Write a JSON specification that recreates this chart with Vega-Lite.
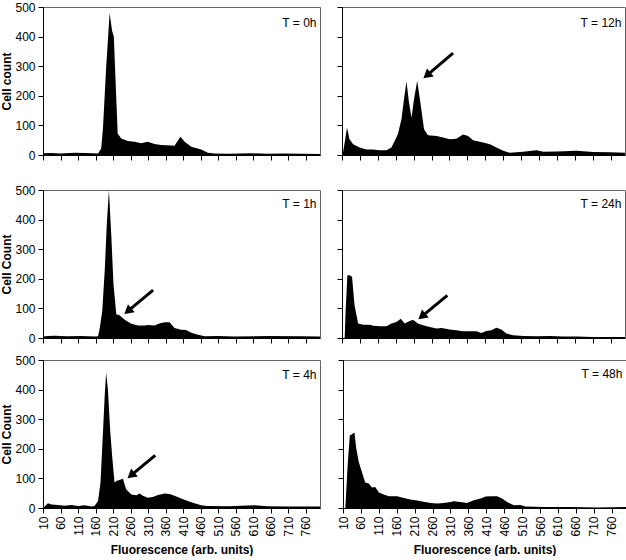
{
  "$schema": "https://vega.github.io/schema/vega-lite/v6.json",
  "padding": {"left": 0, "top": 0, "right": 0, "bottom": 0},
  "background": "white",
  "config": {
    "view": {"stroke": "#666", "strokeWidth": 1},
    "font": "Liberation Sans",
    "axis": {"domainColor": "black", "tickColor": "black", "labelColor": "black", "titleColor": "black", "labelFont": "Liberation Sans", "titleFont": "Liberation Sans", "labelFontSize": 12, "titleFontSize": 12, "grid": false, "tickSize": 5, "labelPadding": 3, "titlePadding": 1, "labelFontWeight": "normal", "titleFontWeight": "bold", "labelOverlap": false, "labelFlush": false, "labelBound": false},
    "text": {"font": "Liberation Sans", "fontSize": 12, "color": "black"}
  },
  "datasets": {
    "hist": [
      {"p": "0h", "x": 10, "y": 6}, {"p": "0h", "x": 34, "y": 7}, {"p": "0h", "x": 60, "y": 5}, {"p": "0h", "x": 100, "y": 8}, {"p": "0h", "x": 130, "y": 7}, {"p": "0h", "x": 167, "y": 5}, {"p": "0h", "x": 176, "y": 22}, {"p": "0h", "x": 181, "y": 90}, {"p": "0h", "x": 190, "y": 293}, {"p": "0h", "x": 200, "y": 480}, {"p": "0h", "x": 207, "y": 420}, {"p": "0h", "x": 212, "y": 400}, {"p": "0h", "x": 218, "y": 220}, {"p": "0h", "x": 223, "y": 73}, {"p": "0h", "x": 233, "y": 56}, {"p": "0h", "x": 252, "y": 47}, {"p": "0h", "x": 271, "y": 45}, {"p": "0h", "x": 290, "y": 40}, {"p": "0h", "x": 309, "y": 45}, {"p": "0h", "x": 328, "y": 37}, {"p": "0h", "x": 347, "y": 34}, {"p": "0h", "x": 376, "y": 32}, {"p": "0h", "x": 385, "y": 31}, {"p": "0h", "x": 402, "y": 62}, {"p": "0h", "x": 414, "y": 45}, {"p": "0h", "x": 433, "y": 28}, {"p": "0h", "x": 461, "y": 19}, {"p": "0h", "x": 480, "y": 8}, {"p": "0h", "x": 499, "y": 5}, {"p": "0h", "x": 540, "y": 4}, {"p": "0h", "x": 600, "y": 6}, {"p": "0h", "x": 650, "y": 4}, {"p": "0h", "x": 700, "y": 5}, {"p": "0h", "x": 750, "y": 4}, {"p": "0h", "x": 800, "y": 3},
      {"p": "12h", "x": 10, "y": 0}, {"p": "12h", "x": 13, "y": 10}, {"p": "12h", "x": 17.5, "y": 42}, {"p": "12h", "x": 24, "y": 93}, {"p": "12h", "x": 31, "y": 53}, {"p": "12h", "x": 41, "y": 36}, {"p": "12h", "x": 59, "y": 25}, {"p": "12h", "x": 78, "y": 19}, {"p": "12h", "x": 97, "y": 19}, {"p": "12h", "x": 115, "y": 16}, {"p": "12h", "x": 134, "y": 16}, {"p": "12h", "x": 148, "y": 25}, {"p": "12h", "x": 157, "y": 47}, {"p": "12h", "x": 166, "y": 70}, {"p": "12h", "x": 176, "y": 121}, {"p": "12h", "x": 183, "y": 188}, {"p": "12h", "x": 190, "y": 248}, {"p": "12h", "x": 197, "y": 177}, {"p": "12h", "x": 204, "y": 126}, {"p": "12h", "x": 211, "y": 188}, {"p": "12h", "x": 220, "y": 251}, {"p": "12h", "x": 230, "y": 166}, {"p": "12h", "x": 239, "y": 87}, {"p": "12h", "x": 250, "y": 67}, {"p": "12h", "x": 274, "y": 64}, {"p": "12h", "x": 292, "y": 59}, {"p": "12h", "x": 311, "y": 53}, {"p": "12h", "x": 329, "y": 55}, {"p": "12h", "x": 348, "y": 69}, {"p": "12h", "x": 362, "y": 64}, {"p": "12h", "x": 376, "y": 50}, {"p": "12h", "x": 404, "y": 42}, {"p": "12h", "x": 423, "y": 36}, {"p": "12h", "x": 441, "y": 25}, {"p": "12h", "x": 460, "y": 14}, {"p": "12h", "x": 478, "y": 8}, {"p": "12h", "x": 516, "y": 11}, {"p": "12h", "x": 553, "y": 16}, {"p": "12h", "x": 572, "y": 11}, {"p": "12h", "x": 609, "y": 12}, {"p": "12h", "x": 665, "y": 14}, {"p": "12h", "x": 711, "y": 10}, {"p": "12h", "x": 758, "y": 9}, {"p": "12h", "x": 800, "y": 8},
      {"p": "1h", "x": 10, "y": 5}, {"p": "1h", "x": 24, "y": 7}, {"p": "1h", "x": 43, "y": 8}, {"p": "1h", "x": 81, "y": 6}, {"p": "1h", "x": 119, "y": 7}, {"p": "1h", "x": 157, "y": 5}, {"p": "1h", "x": 167, "y": 6}, {"p": "1h", "x": 172, "y": 34}, {"p": "1h", "x": 179, "y": 91}, {"p": "1h", "x": 186, "y": 227}, {"p": "1h", "x": 192, "y": 386}, {"p": "1h", "x": 198, "y": 500}, {"p": "1h", "x": 205, "y": 341}, {"p": "1h", "x": 211, "y": 182}, {"p": "1h", "x": 219, "y": 80}, {"p": "1h", "x": 228, "y": 77}, {"p": "1h", "x": 243, "y": 62}, {"p": "1h", "x": 262, "y": 48}, {"p": "1h", "x": 281, "y": 42}, {"p": "1h", "x": 300, "y": 42}, {"p": "1h", "x": 309, "y": 44}, {"p": "1h", "x": 328, "y": 42}, {"p": "1h", "x": 342, "y": 49}, {"p": "1h", "x": 357, "y": 53}, {"p": "1h", "x": 371, "y": 53}, {"p": "1h", "x": 385, "y": 34}, {"p": "1h", "x": 404, "y": 28}, {"p": "1h", "x": 418, "y": 27}, {"p": "1h", "x": 433, "y": 18}, {"p": "1h", "x": 452, "y": 11}, {"p": "1h", "x": 471, "y": 6}, {"p": "1h", "x": 509, "y": 7}, {"p": "1h", "x": 556, "y": 5}, {"p": "1h", "x": 651, "y": 7}, {"p": "1h", "x": 746, "y": 6}, {"p": "1h", "x": 800, "y": 5},
      {"p": "24h", "x": 10, "y": 0}, {"p": "24h", "x": 17.5, "y": 0}, {"p": "24h", "x": 20, "y": 88}, {"p": "24h", "x": 25, "y": 212}, {"p": "24h", "x": 31, "y": 212}, {"p": "24h", "x": 38, "y": 207}, {"p": "24h", "x": 45, "y": 111}, {"p": "24h", "x": 55, "y": 49}, {"p": "24h", "x": 69, "y": 45}, {"p": "24h", "x": 87, "y": 45}, {"p": "24h", "x": 97, "y": 41}, {"p": "24h", "x": 115, "y": 40}, {"p": "24h", "x": 134, "y": 40}, {"p": "24h", "x": 148, "y": 49}, {"p": "24h", "x": 162, "y": 54}, {"p": "24h", "x": 174, "y": 65}, {"p": "24h", "x": 185, "y": 49}, {"p": "24h", "x": 196, "y": 56}, {"p": "24h", "x": 208, "y": 62}, {"p": "24h", "x": 222, "y": 49}, {"p": "24h", "x": 236, "y": 43}, {"p": "24h", "x": 255, "y": 37}, {"p": "24h", "x": 274, "y": 32}, {"p": "24h", "x": 288, "y": 34}, {"p": "24h", "x": 311, "y": 29}, {"p": "24h", "x": 329, "y": 26}, {"p": "24h", "x": 348, "y": 23}, {"p": "24h", "x": 367, "y": 23}, {"p": "24h", "x": 385, "y": 23}, {"p": "24h", "x": 399, "y": 17}, {"p": "24h", "x": 413, "y": 24}, {"p": "24h", "x": 427, "y": 26}, {"p": "24h", "x": 441, "y": 35}, {"p": "24h", "x": 455, "y": 29}, {"p": "24h", "x": 469, "y": 15}, {"p": "24h", "x": 488, "y": 9}, {"p": "24h", "x": 516, "y": 7}, {"p": "24h", "x": 553, "y": 6}, {"p": "24h", "x": 590, "y": 7}, {"p": "24h", "x": 627, "y": 5}, {"p": "24h", "x": 665, "y": 5}, {"p": "24h", "x": 711, "y": 3}, {"p": "24h", "x": 800, "y": 3},
      {"p": "4h", "x": 10, "y": 0}, {"p": "4h", "x": 15, "y": 5}, {"p": "4h", "x": 24, "y": 16}, {"p": "4h", "x": 34, "y": 12}, {"p": "4h", "x": 53, "y": 10}, {"p": "4h", "x": 72, "y": 8}, {"p": "4h", "x": 91, "y": 10}, {"p": "4h", "x": 110, "y": 7}, {"p": "4h", "x": 129, "y": 9}, {"p": "4h", "x": 148, "y": 5}, {"p": "4h", "x": 157, "y": 7}, {"p": "4h", "x": 167, "y": 24}, {"p": "4h", "x": 174, "y": 86}, {"p": "4h", "x": 181, "y": 255}, {"p": "4h", "x": 186, "y": 379}, {"p": "4h", "x": 190, "y": 458}, {"p": "4h", "x": 195, "y": 402}, {"p": "4h", "x": 202, "y": 255}, {"p": "4h", "x": 208, "y": 165}, {"p": "4h", "x": 214, "y": 86}, {"p": "4h", "x": 219, "y": 91}, {"p": "4h", "x": 228, "y": 95}, {"p": "4h", "x": 238, "y": 99}, {"p": "4h", "x": 247, "y": 63}, {"p": "4h", "x": 262, "y": 46}, {"p": "4h", "x": 276, "y": 43}, {"p": "4h", "x": 286, "y": 49}, {"p": "4h", "x": 295, "y": 41}, {"p": "4h", "x": 309, "y": 35}, {"p": "4h", "x": 323, "y": 37}, {"p": "4h", "x": 338, "y": 44}, {"p": "4h", "x": 357, "y": 49}, {"p": "4h", "x": 371, "y": 47}, {"p": "4h", "x": 385, "y": 41}, {"p": "4h", "x": 404, "y": 32}, {"p": "4h", "x": 423, "y": 24}, {"p": "4h", "x": 442, "y": 16}, {"p": "4h", "x": 461, "y": 9}, {"p": "4h", "x": 480, "y": 7}, {"p": "4h", "x": 537, "y": 6}, {"p": "4h", "x": 613, "y": 9}, {"p": "4h", "x": 651, "y": 6}, {"p": "4h", "x": 708, "y": 5}, {"p": "4h", "x": 800, "y": 5},
      {"p": "48h", "x": 10, "y": 0}, {"p": "48h", "x": 16.5, "y": 0}, {"p": "48h", "x": 23, "y": 144}, {"p": "48h", "x": 29, "y": 245}, {"p": "48h", "x": 35, "y": 249}, {"p": "48h", "x": 42, "y": 255}, {"p": "48h", "x": 47, "y": 201}, {"p": "48h", "x": 54, "y": 155}, {"p": "48h", "x": 63, "y": 121}, {"p": "48h", "x": 72, "y": 86}, {"p": "48h", "x": 82, "y": 83}, {"p": "48h", "x": 91, "y": 69}, {"p": "48h", "x": 100, "y": 71}, {"p": "48h", "x": 110, "y": 52}, {"p": "48h", "x": 124, "y": 46}, {"p": "48h", "x": 138, "y": 40}, {"p": "48h", "x": 161, "y": 40}, {"p": "48h", "x": 180, "y": 34}, {"p": "48h", "x": 198, "y": 29}, {"p": "48h", "x": 217, "y": 25}, {"p": "48h", "x": 235, "y": 21}, {"p": "48h", "x": 254, "y": 17}, {"p": "48h", "x": 273, "y": 15}, {"p": "48h", "x": 291, "y": 17}, {"p": "48h", "x": 310, "y": 20}, {"p": "48h", "x": 319, "y": 23}, {"p": "48h", "x": 338, "y": 20}, {"p": "48h", "x": 356, "y": 17}, {"p": "48h", "x": 375, "y": 26}, {"p": "48h", "x": 394, "y": 32}, {"p": "48h", "x": 408, "y": 39}, {"p": "48h", "x": 422, "y": 40}, {"p": "48h", "x": 440, "y": 40}, {"p": "48h", "x": 454, "y": 32}, {"p": "48h", "x": 468, "y": 20}, {"p": "48h", "x": 487, "y": 9}, {"p": "48h", "x": 505, "y": 10}, {"p": "48h", "x": 519, "y": 5}, {"p": "48h", "x": 571, "y": 3}, {"p": "48h", "x": 645, "y": 3}, {"p": "48h", "x": 720, "y": 2}, {"p": "48h", "x": 800, "y": 3}
    ],
    "labels": [
      {"p": "0h", "t": "T = 0h"}, {"p": "12h", "t": "T = 12h"}, {"p": "1h", "t": "T = 1h"}, {"p": "24h", "t": "T = 24h"}, {"p": "4h", "t": "T = 4h"}, {"p": "48h", "t": "T = 48h"}
    ],
    "arrows": [
      {"p": "12h", "x": 320, "y": 344, "x2": 247, "y2": 269},
      {"p": "1h", "x": 324, "y": 162, "x2": 252, "y2": 91},
      {"p": "24h", "x": 304, "y": 144, "x2": 233, "y2": 73},
      {"p": "4h", "x": 330, "y": 178, "x2": 261, "y2": 110}
    ]
  },
  "spacing": 21,
  "vconcat": [
    {
      "spacing": 15,
      "hconcat": [
        {
          "width": 277, "height": 148,
          "resolve": {"axis": {"x": "independent", "y": "independent"}},
          "layer": [
            {"data": {"name": "hist"}, "transform": [{"filter": "datum.p == '0h'"}], "mark": {"type": "area", "color": "black", "clip": true},
             "encoding": {
               "x": {"field": "x", "type": "quantitative", "scale": {"domain": [10, 800], "nice": false, "zero": false}, "axis": {"values": [10,60,110,160,210,260,310,360,410,460,510,560,610,660,710,760], "labels": false, "labelOverlap": false, "title": null}},
               "y": {"field": "y", "type": "quantitative", "scale": {"domain": [0, 500], "nice": false}, "axis": {"values": [0,100,200,300,400,500], "labelOverlap": false, "title": "Cell count"}}}},
            {"data": {"name": "labels"}, "transform": [{"filter": "datum.p == '0h'"}], "mark": {"type": "text", "align": "right", "baseline": "middle"},
             "encoding": {"x": {"datum": 790, "type": "quantitative", "axis": null}, "y": {"datum": 445, "type": "quantitative", "axis": null}, "text": {"field": "t"}}}
          ]
        },
        {
          "width": 283, "height": 148,
          "resolve": {"axis": {"x": "independent", "y": "independent"}},
          "layer": [
            {"data": {"name": "hist"}, "transform": [{"filter": "datum.p == '12h'"}], "mark": {"type": "area", "color": "black", "clip": true},
             "encoding": {
               "x": {"field": "x", "type": "quantitative", "scale": {"domain": [10, 800], "nice": false, "zero": false}, "axis": {"values": [10,60,110,160,210,260,310,360,410,460,510,560,610,660,710,760], "labels": false, "labelOverlap": false, "title": null}},
               "y": {"field": "y", "type": "quantitative", "scale": {"domain": [0, 500], "nice": false}, "axis": {"values": [0,100,200,300,400,500], "labels": false, "labelOverlap": false, "title": null}}}},
            {"data": {"name": "labels"}, "transform": [{"filter": "datum.p == '12h'"}], "mark": {"type": "text", "align": "right", "baseline": "middle"},
             "encoding": {"x": {"datum": 790, "type": "quantitative", "axis": null}, "y": {"datum": 445, "type": "quantitative", "axis": null}, "text": {"field": "t"}}},
            {"data": {"name": "arrows"}, "transform": [{"filter": "datum.p == '12h'"}], "mark": {"type": "rule", "color": "black", "strokeWidth": 3},
             "encoding": {"x": {"field": "x", "type": "quantitative", "axis": null}, "y": {"field": "y", "type": "quantitative", "axis": null}, "x2": {"field": "x2"}, "y2": {"field": "y2"}}},
            {"data": {"name": "arrows"}, "transform": [{"filter": "datum.p == '12h'"}], "mark": {"type": "point", "shape": "triangle-up", "filled": true, "color": "black", "size": 110, "opacity": 1, "angle": 230},
             "encoding": {"x": {"field": "x2", "type": "quantitative", "axis": null}, "y": {"field": "y2", "type": "quantitative", "axis": null}}}
          ]
        }
      ]
    },
    {
      "spacing": 8,
      "vconcat": [
        {
          "spacing": 15,
          "hconcat": [
            {
              "width": 277, "height": 148,
              "resolve": {"axis": {"x": "independent", "y": "independent"}},
              "layer": [
                {"data": {"name": "hist"}, "transform": [{"filter": "datum.p == '1h'"}], "mark": {"type": "area", "color": "black", "clip": true},
                 "encoding": {
                   "x": {"field": "x", "type": "quantitative", "scale": {"domain": [10, 800], "nice": false, "zero": false}, "axis": {"values": [10,60,110,160,210,260,310,360,410,460,510,560,610,660,710,760], "labels": false, "labelOverlap": false, "title": null}},
                   "y": {"field": "y", "type": "quantitative", "scale": {"domain": [0, 500], "nice": false}, "axis": {"values": [0,100,200,300,400,500], "labelOverlap": false, "title": "Cell Count"}}}},
                {"data": {"name": "labels"}, "transform": [{"filter": "datum.p == '1h'"}], "mark": {"type": "text", "align": "right", "baseline": "middle"},
                 "encoding": {"x": {"datum": 790, "type": "quantitative", "axis": null}, "y": {"datum": 453, "type": "quantitative", "axis": null}, "text": {"field": "t"}}},
                {"data": {"name": "arrows"}, "transform": [{"filter": "datum.p == '1h'"}], "mark": {"type": "rule", "color": "black", "strokeWidth": 3},
                 "encoding": {"x": {"field": "x", "type": "quantitative", "axis": null}, "y": {"field": "y", "type": "quantitative", "axis": null}, "x2": {"field": "x2"}, "y2": {"field": "y2"}}},
                {"data": {"name": "arrows"}, "transform": [{"filter": "datum.p == '1h'"}], "mark": {"type": "point", "shape": "triangle-up", "filled": true, "color": "black", "size": 110, "opacity": 1, "angle": 230},
                 "encoding": {"x": {"field": "x2", "type": "quantitative", "axis": null}, "y": {"field": "y2", "type": "quantitative", "axis": null}}}
              ]
            },
            {
              "width": 283, "height": 148,
              "resolve": {"axis": {"x": "independent", "y": "independent"}},
              "layer": [
                {"data": {"name": "hist"}, "transform": [{"filter": "datum.p == '24h'"}], "mark": {"type": "area", "color": "black", "clip": true},
                 "encoding": {
                   "x": {"field": "x", "type": "quantitative", "scale": {"domain": [10, 800], "nice": false, "zero": false}, "axis": {"values": [10,60,110,160,210,260,310,360,410,460,510,560,610,660,710,760], "labels": false, "labelOverlap": false, "title": null}},
                   "y": {"field": "y", "type": "quantitative", "scale": {"domain": [0, 500], "nice": false}, "axis": {"values": [0,100,200,300,400,500], "labels": false, "labelOverlap": false, "title": null}}}},
                {"data": {"name": "labels"}, "transform": [{"filter": "datum.p == '24h'"}], "mark": {"type": "text", "align": "right", "baseline": "middle"},
                 "encoding": {"x": {"datum": 790, "type": "quantitative", "axis": null}, "y": {"datum": 453, "type": "quantitative", "axis": null}, "text": {"field": "t"}}},
                {"data": {"name": "arrows"}, "transform": [{"filter": "datum.p == '24h'"}], "mark": {"type": "rule", "color": "black", "strokeWidth": 3},
                 "encoding": {"x": {"field": "x", "type": "quantitative", "axis": null}, "y": {"field": "y", "type": "quantitative", "axis": null}, "x2": {"field": "x2"}, "y2": {"field": "y2"}}},
                {"data": {"name": "arrows"}, "transform": [{"filter": "datum.p == '24h'"}], "mark": {"type": "point", "shape": "triangle-up", "filled": true, "color": "black", "size": 110, "opacity": 1, "angle": 230},
                 "encoding": {"x": {"field": "x2", "type": "quantitative", "axis": null}, "y": {"field": "y2", "type": "quantitative", "axis": null}}}
              ]
            }
          ]
        },
        {
          "spacing": 15,
          "hconcat": [
            {
              "width": 277, "height": 148,
              "resolve": {"axis": {"x": "independent", "y": "independent"}},
              "layer": [
                {"data": {"name": "hist"}, "transform": [{"filter": "datum.p == '4h'"}], "mark": {"type": "area", "color": "black", "clip": true},
                 "encoding": {
                   "x": {"field": "x", "type": "quantitative", "scale": {"domain": [10, 800], "nice": false, "zero": false}, "axis": {"values": [10,60,110,160,210,260,310,360,410,460,510,560,610,660,710,760], "labelAngle": -90, "labelOverlap": false, "titlePadding": 8, "title": "Fluorescence (arb. units)"}},
                   "y": {"field": "y", "type": "quantitative", "scale": {"domain": [0, 500], "nice": false}, "axis": {"values": [0,100,200,300,400,500], "labelOverlap": false, "title": "Cell Count"}}}},
                {"data": {"name": "labels"}, "transform": [{"filter": "datum.p == '4h'"}], "mark": {"type": "text", "align": "right", "baseline": "middle"},
                 "encoding": {"x": {"datum": 790, "type": "quantitative", "axis": null}, "y": {"datum": 450, "type": "quantitative", "axis": null}, "text": {"field": "t"}}},
                {"data": {"name": "arrows"}, "transform": [{"filter": "datum.p == '4h'"}], "mark": {"type": "rule", "color": "black", "strokeWidth": 3},
                 "encoding": {"x": {"field": "x", "type": "quantitative", "axis": null}, "y": {"field": "y", "type": "quantitative", "axis": null}, "x2": {"field": "x2"}, "y2": {"field": "y2"}}},
                {"data": {"name": "arrows"}, "transform": [{"filter": "datum.p == '4h'"}], "mark": {"type": "point", "shape": "triangle-up", "filled": true, "color": "black", "size": 110, "opacity": 1, "angle": 230},
                 "encoding": {"x": {"field": "x2", "type": "quantitative", "axis": null}, "y": {"field": "y2", "type": "quantitative", "axis": null}}}
              ]
            },
            {
              "width": 283, "height": 148,
              "resolve": {"axis": {"x": "independent", "y": "independent"}},
              "layer": [
                {"data": {"name": "hist"}, "transform": [{"filter": "datum.p == '48h'"}], "mark": {"type": "area", "color": "black", "clip": true},
                 "encoding": {
                   "x": {"field": "x", "type": "quantitative", "scale": {"domain": [10, 800], "nice": false, "zero": false}, "axis": {"values": [10,60,110,160,210,260,310,360,410,460,510,560,610,660,710,760], "labelAngle": -90, "labelOverlap": false, "titlePadding": 8, "title": "Fluorescence (arb. units)"}},
                   "y": {"field": "y", "type": "quantitative", "scale": {"domain": [0, 500], "nice": false}, "axis": {"values": [0,100,200,300,400,500], "labels": false, "labelOverlap": false, "title": null}}}},
                {"data": {"name": "labels"}, "transform": [{"filter": "datum.p == '48h'"}], "mark": {"type": "text", "align": "right", "baseline": "middle"},
                 "encoding": {"x": {"datum": 790, "type": "quantitative", "axis": null}, "y": {"datum": 453, "type": "quantitative", "axis": null}, "text": {"field": "t"}}}
              ]
            }
          ]
        }
      ]
    }
  ]
}
